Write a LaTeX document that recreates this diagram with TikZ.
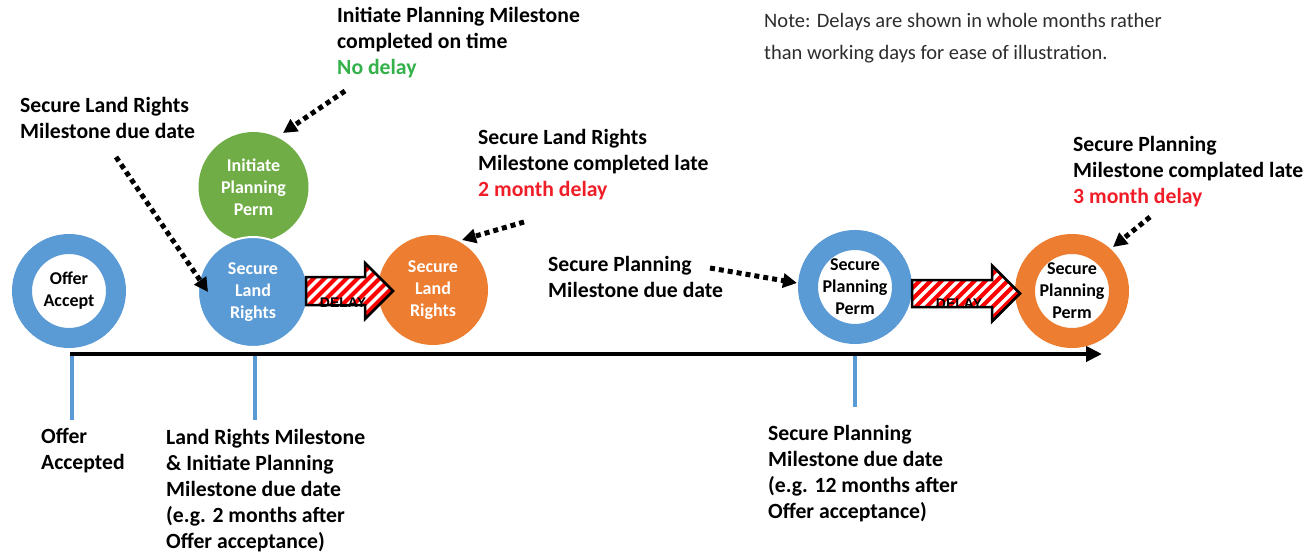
\documentclass[tikz,border=0pt]{standalone}
\usepackage{fontspec}
\setmainfont{Carlito}
\newfontfamily\arialfont{Liberation Sans}
\usetikzlibrary{arrows.meta}

\definecolor{msblue}{RGB}{91,155,213}
\definecolor{msgreen}{RGB}{112,173,71}
\definecolor{msorange}{RGB}{237,125,49}
\definecolor{oktext}{RGB}{51,177,74}
\definecolor{latetext}{RGB}{240,30,40}
\definecolor{stripered}{RGB}{255,0,0}
\definecolor{notegray}{RGB}{45,45,45}

\begin{document}
\begin{tikzpicture}[x=1pt,y=-1pt,
  ring/.style={circle, inner sep=0pt, minimum size=94pt, line width=20pt, fill=white,
    align=center, font=\bfseries\fontsize{18}{22}\selectfont},
  disc/.style={circle, inner sep=0pt, minimum size=110pt, text=white,
    align=center, font=\bfseries\fontsize{18}{22}\selectfont},
  lbl/.style={anchor=base west, align=left, inner sep=0pt,
    font=\bfseries\fontsize{21.7}{26}\selectfont},
  notetext/.style={anchor=base west, align=left, inner sep=0pt, text=notegray,
    font=\fontsize{20.5}{32}\selectfont},
  pointer/.style={line width=5pt, dash pattern=on 5pt off 4pt,
    -{Triangle[length=14pt,width=14pt]}},
  tick/.style={msblue, line width=4pt},
  timeline/.style={line width=4pt, -{Triangle[length=16pt,width=15pt]}},
  delayshape/.style={draw=black, line width=2.5pt, fill=white,
    path picture={
      \foreach \k in {-10,...,14}
        \draw[stripered, line width=4pt]
          ([xshift=\k*11pt]path picture bounding box.south west) -- ++(70,-70);
    }},
  delaytext/.style={anchor=base, inner sep=0pt,
    font=\arialfont\bfseries\fontsize{14}{14}\selectfont}
]
\useasboundingbox[fill=white] (0,0) rectangle (1305,553);

% timeline with its milestone ticks
\coordinate (k0a) at (72,354);   \coordinate (k0b) at (72,420);
\coordinate (k1a) at (255,354);  \coordinate (k1b) at (255,420);
\coordinate (k2a) at (855,354);  \coordinate (k2b) at (855,407);
\draw[tick] (k0a) -- (k0b);
\draw[tick] (k1a) -- (k1b);
\draw[tick] (k2a) -- (k2b);
\coordinate (tl0) at (70,354);
\coordinate (tl1) at (1102,354);
\draw[timeline] (tl0) -- (tl1);

% milestone circles
\node[ring, draw=msblue] (offer) at (69,291) {Offer\\Accept};
\node[disc, fill=msgreen] (ipp) at (253.5,187) {Initiate\\Planning\\Perm};
\node[disc, fill=msblue, draw=white, line width=2pt] (slr1) at (253,292) {Secure\\Land\\Rights};
\node[disc, fill=msorange] (slr2) at (433,290) {Secure\\Land\\Rights};
\node[ring, draw=msblue] (spp1) at (855,287) {Secure\\Planning\\Perm};
\node[ring, draw=msorange] (spp2) at (1072,291) {Secure\\Planning\\Perm};

% hatched delay arrows
\coordinate (d1) at (306,291);
\path[delayshape] (d1) ++(0,-14) -- ++(59,0) -- ++(0,-14) -- ++(28,28)
  -- ++(-28,28) -- ++(0,-14) -- ++(-59,0) -- cycle;
\node[delaytext] (delay1t) at (343,307) {DELAY};
\coordinate (d2) at (912,293.5);
\path[delayshape] (d2) ++(0,-13.5) -- ++(80,0) -- ++(0,-14.5) -- ++(28,28)
  -- ++(-28,28) -- ++(0,-14.5) -- ++(-80,0) -- cycle;
\node[delaytext] (delay2t) at (959,308) {DELAY};

% labels (anchored at the baseline of their last line)
\node[lbl] (t-slrdue) at (20,139) {Secure Land Rights\\Milestone due date};
\node[lbl] (t-ipm) at (337,75) {Initiate Planning Milestone\\completed on time\\\textcolor{oktext}{No delay}};
\node[lbl] (t-slrlate) at (478,197) {Secure Land Rights\\Milestone completed late\\\textcolor{latetext}{2 month delay}};
\node[lbl] (t-spdue) at (548,297) {Secure Planning\\Milestone due date};
\node[lbl] (t-splate) at (1073,204) {Secure Planning\\Milestone complated late\\\textcolor{latetext}{3 month delay}};
\node[lbl] (t-offer) at (41,469) {Offer\\Accepted};
\node[lbl] (t-lrdue) at (166,548) {Land Rights Milestone\\\& Initiate Planning\\Milestone due date\\(e.g. 2 months after\\Offer acceptance)};
\node[lbl] (t-spdue2) at (768,518) {Secure Planning\\Milestone due date\\(e.g. 12 months after\\Offer acceptance)};
\node[notetext] (note) at (764,60) {Note: Delays are shown in whole months rather\\than working days for ease of illustration.};

% dotted pointers from the labels to the circles
\coordinate (p1s) at (345,91);   \coordinate (p1e) at (283,133);
\coordinate (p2s) at (116,157);  \coordinate (p2e) at (208,292);
\coordinate (p3s) at (524,222);  \coordinate (p3e) at (462,240);
\coordinate (p4s) at (710,268);  \coordinate (p4e) at (797,283);
\coordinate (p5s) at (1150,217); \coordinate (p5e) at (1113,247);
\draw[pointer] (p1s) -- (p1e);
\draw[pointer] (p2s) -- (p2e);
\draw[pointer] (p3s) -- (p3e);
\draw[pointer] (p4s) -- (p4e);
\draw[pointer] (p5s) -- (p5e);
\end{tikzpicture}
\end{document}
